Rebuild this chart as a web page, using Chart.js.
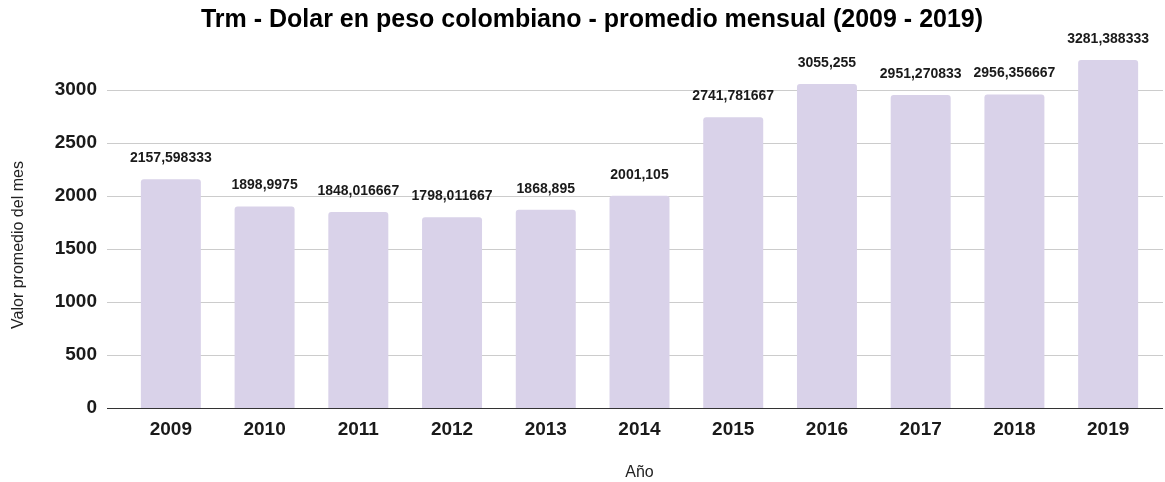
<!DOCTYPE html>
<html>
<head>
<meta charset="utf-8">
<script src="https://cdn.jsdelivr.net/npm/chart.js@4"></script>
<style>
  html, body { margin: 0; padding: 0; background: #fff; }
  #wrap { width: 1165px; height: 482px; }
</style>
</head>
<body>
<div id="wrap"><canvas id="trmChart"></canvas></div>
<script>
const anios = ['2009', '2010', '2011', '2012', '2013', '2014', '2015', '2016', '2017', '2018', '2019'];
const promedios = [2157.598333, 1898.9975, 1848.016667, 1798.011667, 1868.895, 2001.105, 2741.781667, 3055.255, 2951.270833, 2956.356667, 3281.388333];
const ticksY = [0, 500, 1000, 1500, 2000, 2500, 3000];

const fuente = "'Liberation Sans', Arial, sans-serif";

// lineas de la grilla: van mas alla del area de barras (como en la hoja de calculo)
const grillaAncha = {
    id: 'grillaAncha',
    beforeDatasetsDraw(chart) {
        const ctx = chart.ctx;
        const y = chart.scales.y;
        ctx.save();
        ctx.lineWidth = 1;
        ticksY.forEach(v => {
            const py = Math.round(y.getPixelForValue(v)) + 0.5;
            ctx.strokeStyle = v === 0 ? '#333333' : '#cccccc';
            ctx.beginPath();
            ctx.moveTo(107, py);
            ctx.lineTo(1163, py);
            ctx.stroke();
        });
        ctx.restore();
    }
};

// etiquetas de valor encima de cada barra + titulo eje Y
const etiquetasBarras = {
    id: 'etiquetasBarras',
    afterDatasetsDraw(chart) {
        const ctx = chart.ctx;
        const meta = chart.getDatasetMeta(0);
        ctx.save();
        ctx.font = 'bold 14px ' + fuente;
        ctx.fillStyle = '#1a1a1a';
        ctx.textAlign = 'center';
        ctx.textBaseline = 'middle';
        meta.data.forEach((bar, i) => {
            const txt = String(promedios[i]).replace('.', ',');
            ctx.fillText(txt, bar.x, bar.y - 21);
        });

        ctx.translate(19, 245);
        ctx.rotate(-Math.PI / 2);
        ctx.font = '16px ' + fuente;
        ctx.fillStyle = '#222';
        ctx.fillText('Valor promedio del mes', 0, 0);
        ctx.restore();
    }
};

const ctx = document.getElementById('trmChart').getContext('2d');
new Chart(ctx, {
    type: 'bar',
    data: {
        labels: anios,
        datasets: [{
            data: promedios,
            backgroundColor: '#d9d2e9',
            borderRadius: { topLeft: 3, topRight: 3 },
            borderSkipped: 'bottom',
            categoryPercentage: 1,
            barPercentage: 0.64
        }]
    },
    options: {
        responsive: true,
        maintainAspectRatio: false,
        animation: false,
        layout: { padding: { left: 29, right: 10, top: 0, bottom: 0 } },
        plugins: {
            legend: { display: false },
            tooltip: { enabled: false },
            title: {
                display: true,
                text: 'Trm - Dolar en peso colombiano - promedio mensual (2009 - 2019)',
                color: '#000',
                font: { family: fuente, size: 25, weight: 'bold' },
                padding: { top: 5, bottom: 23 }
            }
        },
        scales: {
            x: {
                grid: { display: false },
                border: { display: false },
                ticks: {
                    color: '#1a1a1a',
                    padding: 2,
                    font: { family: fuente, size: 19, weight: 'bold' }
                },
                title: {
                    display: true,
                    text: 'Año',
                    color: '#222',
                    font: { family: fuente, size: 16 },
                    padding: { top: 10, bottom: 0 }
                },
                afterFit(scale) { scale.height = 74; }
            },
            y: {
                min: 0,
                max: 3300,
                grid: { display: false },
                border: { display: false },
                afterBuildTicks(scale) {
                    scale.ticks = ticksY.map(v => ({ value: v }));
                },
                ticks: {
                    color: '#1a1a1a',
                    padding: 19,
                    font: { family: fuente, size: 19, weight: 'bold' },
                    callback: v => String(v)
                },
                afterFit(scale) { scale.width = 95; }
            }
        }
    },
    plugins: [grillaAncha, etiquetasBarras]
});
</script>
</body>
</html>
